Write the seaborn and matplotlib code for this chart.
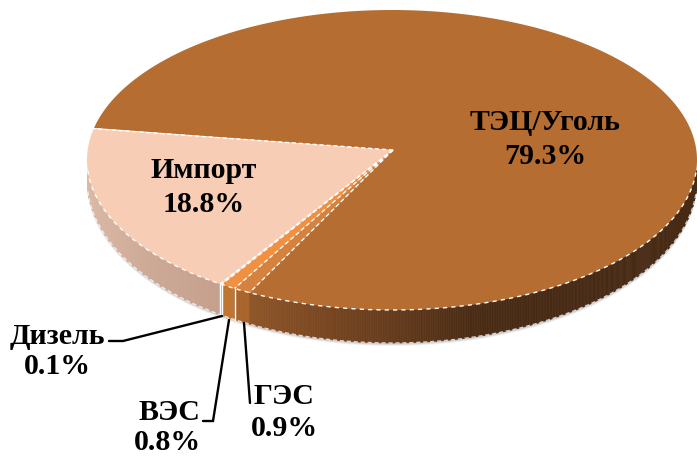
import numpy as np
import seaborn as sns
import matplotlib.pyplot as plt
from matplotlib.collections import PolyCollection

labels = ['Импорт', 'Дизель', 'ВЭС', 'ГЭС', 'ТЭЦ/Уголь']
shares = [18.8, 0.1, 0.8, 0.9, 79.3]
share_labels = ['18.8%', '0.1%', '0.8%', '0.9%', '79.3%']

top_colors = ['#F7CDB6', '#F5DCC8', '#F09040', '#D4823D', '#B56D32']
side_colors = [
    ['#DCB9A6', '#CDA995', '#C6A08C'],
    ['#F3E6DA', '#F3E6DA'],
    ['#BE7530', '#BE7530'],
    ['#A8642B', '#A8642B'],
    ['#8F5527', '#784620', '#633A1B', '#4A2B14', '#472A14', '#472A14', '#472A14'],
]

# pie geometry in image pixels
CX, CY, RX, RY = 392, 160, 305, 150
APEX = (393, 150)
START = 168


def px(x, y):
    return (x - CX) / RX, (CY - y) / RY


def drop(t):
    # rim is thicker at the front than at the sides (perspective)
    return (20 + 13 * np.abs(np.sin(np.radians(t)))) / RY


def rim(t, lower=False, extra=0.0):
    t = np.asarray(t, dtype=float)
    y = np.sin(np.radians(t))
    if lower:
        y = y - drop(t) - extra
    return np.column_stack([np.cos(np.radians(t)), y])


sns.set_theme(style='white')
plt.rcParams['font.family'] = ['Liberation Serif', 'DejaVu Serif']

fig = plt.figure(figsize=(6.97, 4.58), dpi=100)
ax = fig.add_axes([0, 0, 1, 1])

edges = START + np.cumsum([0] + shares) * 3.6
RIM_A, RIM_B = 184, 356

# soft shadow under the rim
t_all = np.linspace(RIM_A, RIM_B, 300)
for off, alpha in [(3.0, 0.10), (2.0, 0.18), (1.0, 0.25)]:
    low = rim(t_all, True, off / RY)
    up = rim(t_all[::-1])
    ax.fill(np.r_[low[:, 0], up[:, 0]], np.r_[low[:, 1], up[:, 1]],
            color='#777777', alpha=alpha, lw=0, zorder=1)

# rim of the pie, split in thin strips so it can carry the shading
for i in range(len(shares)):
    a, b = max(edges[i], RIM_A), min(edges[i + 1], RIM_B)
    if b <= a:
        continue
    cmap = sns.blend_palette(side_colors[i], as_cmap=True)
    ts = np.linspace(a, b, max(int((b - a) * 3), 2))
    polys, cols = [], []
    x0, x1 = np.cos(np.radians(a)), np.cos(np.radians(b))
    for t0, t1 in zip(ts[:-1], ts[1:]):
        polys.append(np.vstack([rim([t0, t1]), rim([t1, t0], True)]))
        xm = np.cos(np.radians((t0 + t1) / 2))
        cols.append(cmap((xm - x0) / (x1 - x0)))
    ax.add_collection(PolyCollection(polys, facecolors=cols, edgecolors=cols,
                                     linewidths=0.4, zorder=2))

# white seams on the rim
ax.plot(*rim(t_all, True).T, color='white', lw=1, ls=(0, (3, 2)), alpha=0.75, zorder=3)
for e in edges[1:4]:
    seam = np.vstack([rim([e]), rim([e], True)])
    ax.plot(*seam.T, color='white', lw=1.0, zorder=3)

# top face: the apex sits above the ellipse centre, like in a tilted 3D pie
apex = px(*APEX)
for i in range(len(shares)):
    arc = rim(np.linspace(edges[i], edges[i + 1], max(int(shares[i] * 12), 4)))
    poly = np.vstack([apex, arc, apex])
    ax.fill(poly[:, 0], poly[:, 1], facecolor=top_colors[i], edgecolor='none', zorder=4)
for i in range(len(shares)):
    spoke = np.vstack([apex, rim([edges[i]])])
    ax.plot(*spoke.T, color='white', lw=1, ls=(0, (3, 2)), zorder=5)
front = rim(np.linspace(RIM_A, RIM_B, 300))
ax.plot(*front.T, color='white', lw=1, ls=(0, (3, 3)), zorder=5)

ax.set_xlim(-CX / RX, (697 - CX) / RX)
ax.set_ylim((CY - 458) / RY, CY / RY)
ax.set_axis_off()

# leader lines
leaders = [
    [(109, 341), (123, 341), (222, 316)],
    [(203, 421), (213, 421), (229, 320)],
    [(250, 403), (244, 323)],
]
for line in leaders:
    ax.plot(*zip(*[px(*p) for p in line]), color='black', lw=1.7, zorder=6,
            solid_joinstyle='miter')

label_pos = [(204, 171), (57, 336), (169, 412), (284, 397), (545, 123)]
share_pos = [(204, 204), (57, 367), (167, 443), (284, 429), (545, 157)]
for name, val, p1, p2 in zip(labels, share_labels, label_pos, share_pos):
    ax.text(*px(*p1), name, ha='center', va='center', fontsize=21.5,
            fontweight='bold', color='black', zorder=7)
    ax.text(*px(*p2), val, ha='center', va='center', fontsize=21.5,
            fontweight='bold', color='black', zorder=7)

fig.savefig('out.png', dpi=100)
